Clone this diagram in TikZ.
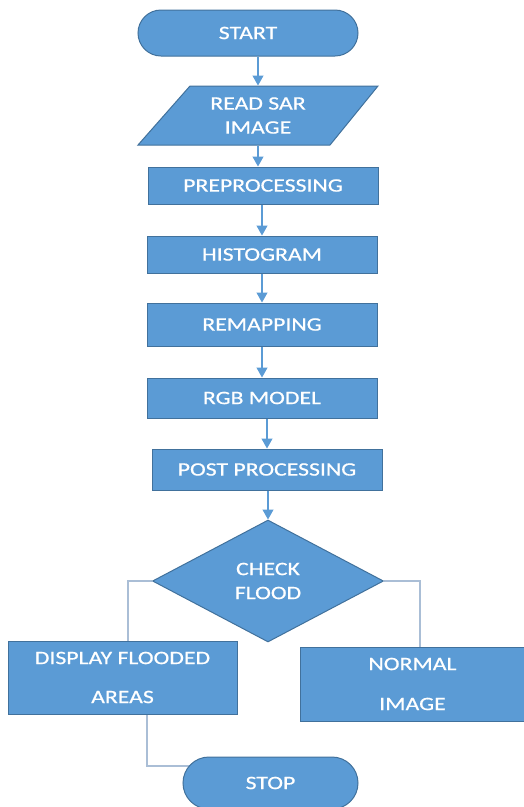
\documentclass[tikz,border=0pt]{standalone}
\usepackage{fontspec}
\setmainfont{Carlito}[FakeStretch=1.25,FakeBold=0.6]
\usetikzlibrary{shapes.geometric,shapes.misc,arrows.meta,backgrounds}
\definecolor{boxblue}{RGB}{91,155,213}
\definecolor{boxedge}{RGB}{65,113,156}
\definecolor{linkgray}{RGB}{170,190,214}
\tikzset{
  flowbox/.style={draw=boxedge,fill=boxblue,text=white,line width=1pt,
    inner sep=0pt,align=center,font=\fontsize{19}{24}\selectfont},
  procbox/.style={flowbox,rectangle,minimum width=230pt},
  termbox/.style={flowbox,rounded rectangle},
  flowarrow/.style={draw=boxblue,line width=1.2pt,-{Triangle[width=11pt,length=10pt]}},
  flowlink/.style={draw=linkgray,line width=1.2pt}
}
\begin{document}
\begin{tikzpicture}[x=1pt,y=-1pt]
    \useasboundingbox(0,0)rectangle(523,807);

    % terminals and steps
    \node[termbox,minimum width=220pt,minimum height=46pt](start)at(248,33){START};
    \filldraw[draw=boxedge,fill=boxblue,line width=1pt]
         (190,86)--(378,86)--(330,145)--(138,145)--cycle;
    \node[flowbox,draw=none,fill=none,minimum width=150pt,minimum height=59pt](read)at(258,115.5){READ SAR\\IMAGE};
    \node[procbox,minimum height=37pt](pre)at(263,185.5){PREPROCESSING};
    \node[procbox,minimum height=37pt](hist)at(262,254.5){HISTOGRAM};
    \node[procbox,minimum height=43pt](remap)at(262,324.5){REMAPPING};
    \node[procbox,minimum height=40pt](rgb)at(262,398){RGB MODEL};
    \node[procbox,minimum height=41pt](post)at(267,469.5){POST PROCESSING};
    \node[flowbox,diamond,minimum width=231pt,minimum height=122pt](check)at(268,581){CHECK\\FLOOD};
    \node[procbox,minimum width=229pt,minimum height=73pt,font=\fontsize{19}{39}\selectfont](disp)at(122.5,677.5){DISPLAY FLOODED\\AREAS};
    \node[procbox,minimum width=225pt,minimum height=74pt,font=\fontsize{19}{40}\selectfont](norm)at(412.5,684){NORMAL\\IMAGE};
    \node[termbox,minimum width=175pt,minimum height=52pt](stop)at(270.5,783){STOP};

    % arrows
    \draw[flowarrow](read.north|-start.south)--(read.north);
    \draw[flowarrow](read.south)--(read.south|-pre.north);
    \draw[flowarrow](pre.south-|hist.north)--(hist.north);
    \draw[flowarrow](hist.south-|remap.north)--(remap.north);
    \draw[flowarrow](remap.south-|rgb.north)--(rgb.north);
    \draw[flowarrow](rgb.south-|post.north)--(post.north);
    \draw[flowarrow](post.south-|check.north)--(check.north);

    % branches
    \begin{scope}[on background layer]
      \draw[flowlink](check.west)-|([xshift=5.5pt]disp.north);
      \draw[flowlink](check.east)-|([xshift=7.5pt]norm.north);
      \draw[flowlink]([xshift=24.5pt]disp.south)|-([yshift=17pt,xshift=8pt]stop.west);
    \end{scope}
  \end{tikzpicture}
\end{document}
